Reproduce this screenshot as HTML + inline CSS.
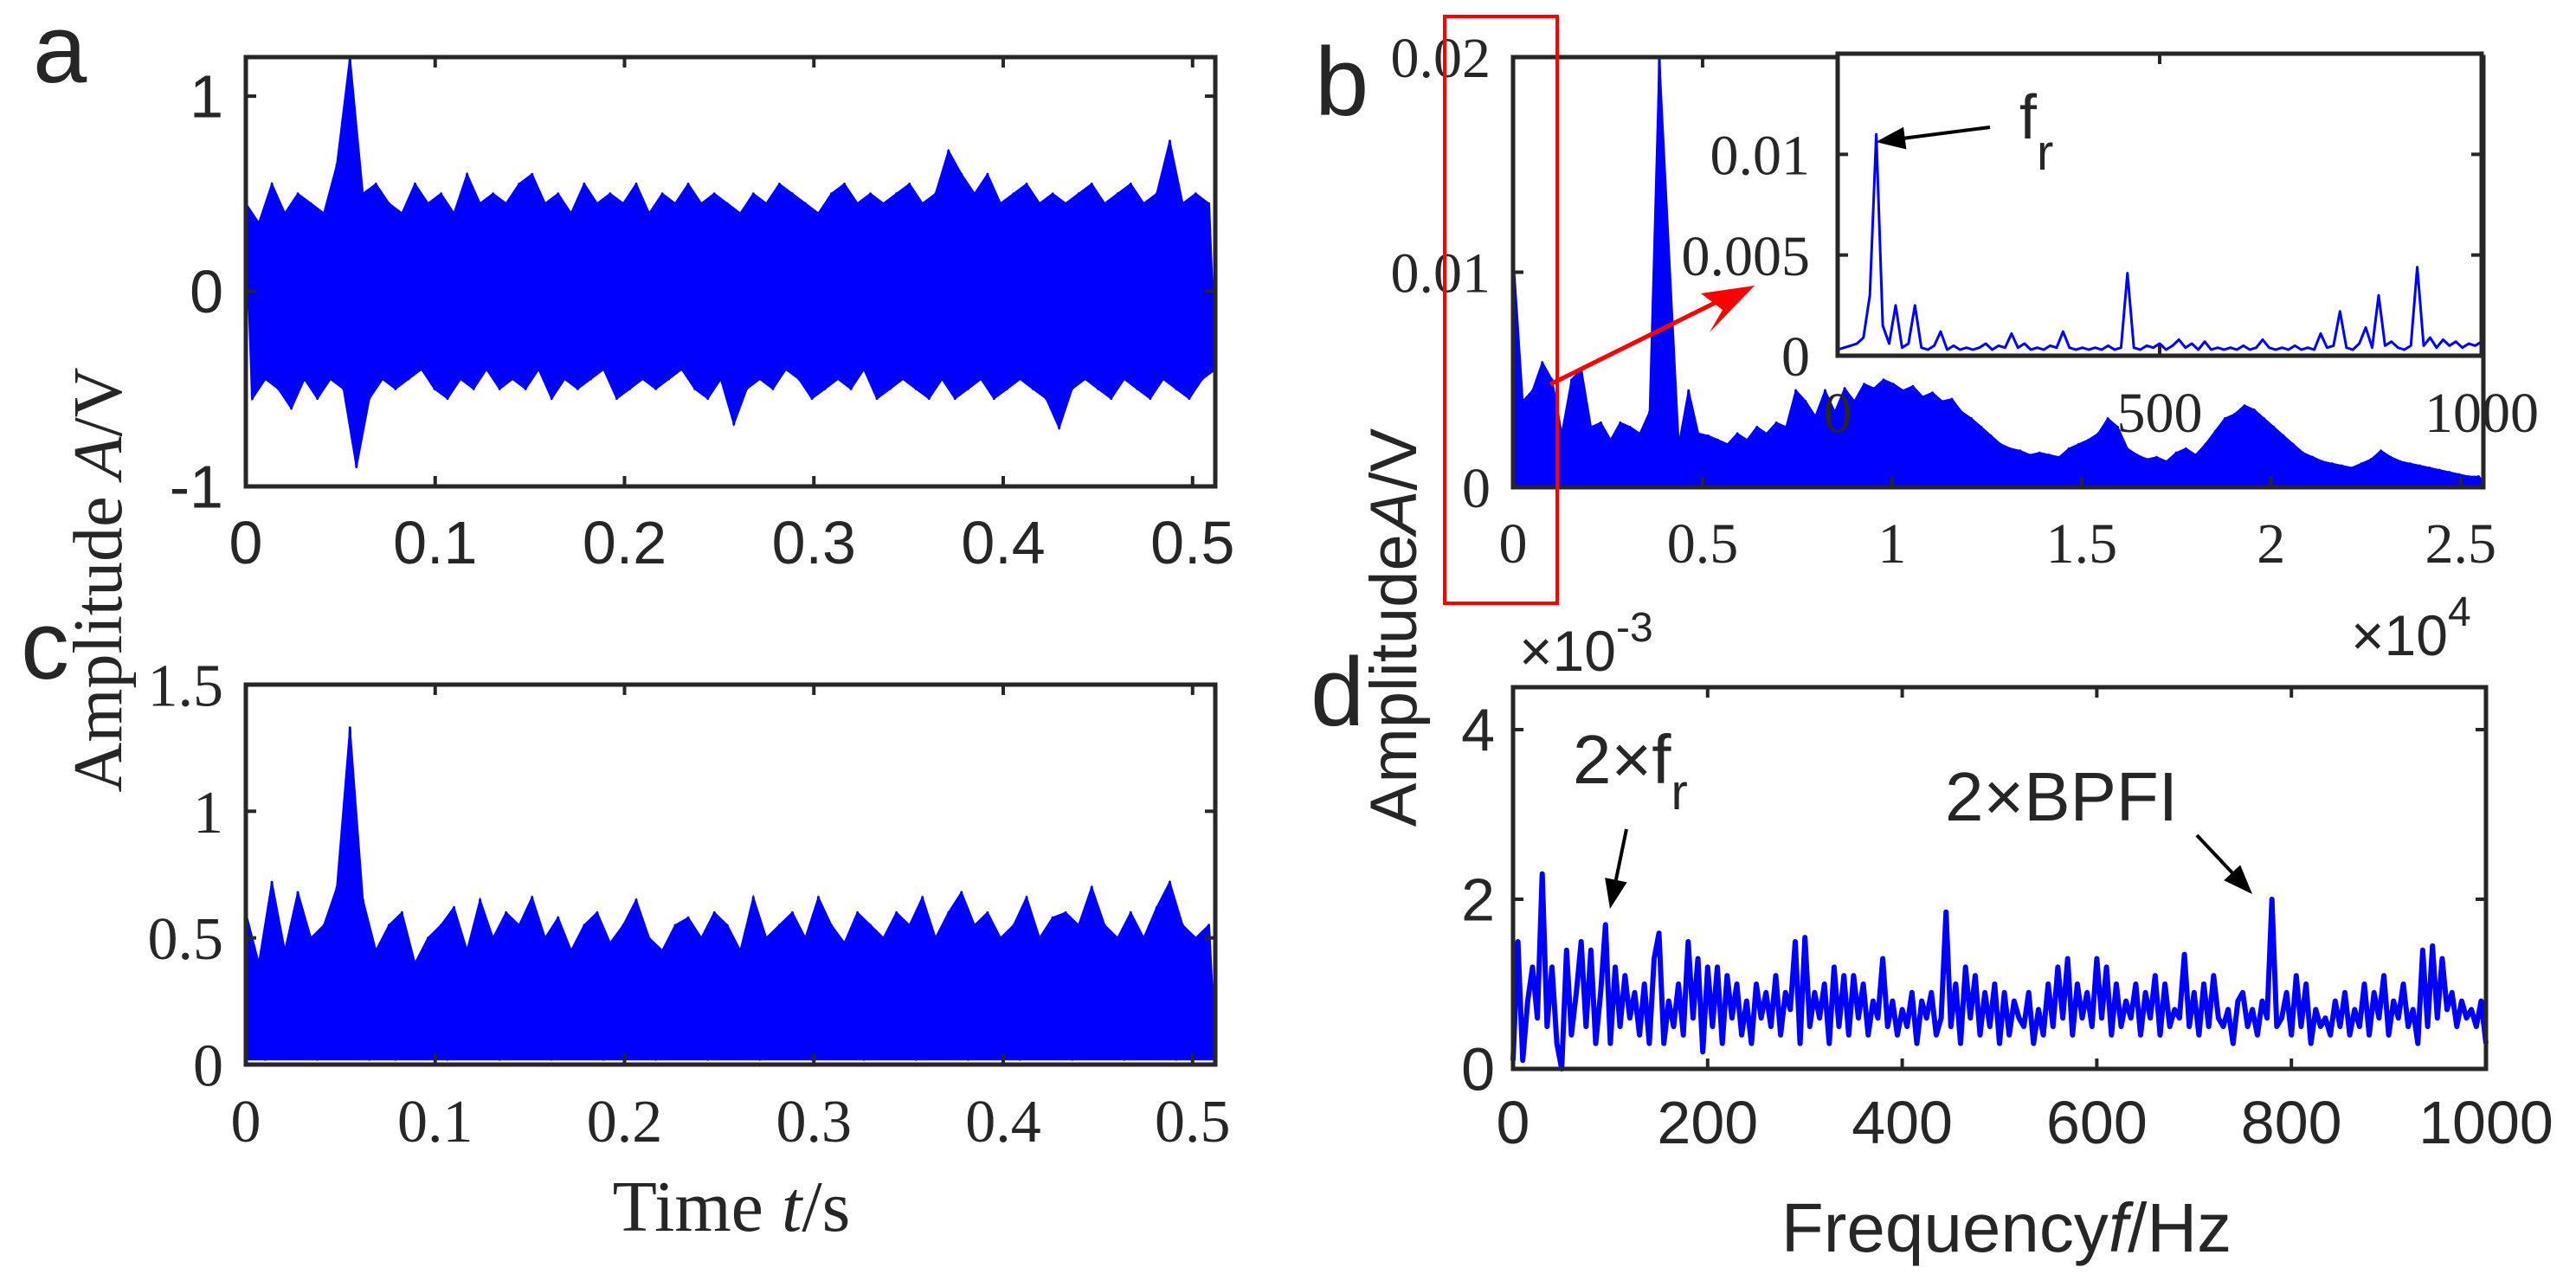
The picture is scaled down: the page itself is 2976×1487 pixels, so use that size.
<!DOCTYPE html>
<html><head><meta charset="utf-8">
<style>
html,body{margin:0;padding:0;background:#fff;}
svg{display:block;}
.sans{font-family:"Liberation Sans",sans-serif;fill:#262626;}
.serif{font-family:"Liberation Serif",serif;fill:#262626;}
</style></head>
<body>
<svg id="fig" width="2976" height="1487" viewBox="0 0 2976 1487" xmlns="http://www.w3.org/2000/svg">
<rect width="2976" height="1487" fill="#fff"/>
<text x="38" y="95" class="sans" font-size="112" fill="#000">a</text>
<text x="1519" y="133" class="sans" font-size="112" fill="#000">b</text>
<text x="24" y="784" class="sans" font-size="112" fill="#000">c</text>
<text x="1514" y="838" class="sans" font-size="112" fill="#000">d</text>
<text transform="translate(140,670) rotate(-90)" text-anchor="middle" class="serif" font-size="80">Amplitude <tspan font-style="italic">A</tspan>/V</text>
<text transform="translate(1636,725) rotate(-90)" text-anchor="middle" class="sans" font-size="76">Amplitude<tspan font-style="italic">A</tspan>/V</text>
<text x="845" y="1422" text-anchor="middle" class="serif" font-size="84">Time <tspan font-style="italic">t</tspan>/s</text>
<text x="2318" y="1446" text-anchor="middle" class="sans" font-size="80">Frequency<tspan font-style="italic">f</tspan>/Hz</text>
<text x="1755" y="775" class="sans" font-size="66">×10<tspan dy="-34" font-size="48">-3</tspan></text>
<text x="2716" y="757" class="sans" font-size="66">×10<tspan dy="-34" font-size="48">4</tspan></text>
<g id="layer"></g>
</svg>
<script>
// ---- data ----
const aTimeMax = 0.512;
const aValues = [0.45,-0.55,0.35,-0.45,0.55,-0.5,0.4,-0.6,0.5,-0.45,
0.45,-0.55,0.4,-0.45,0.65,-0.5,1.2,-0.9,0.5,-0.55,
0.55,-0.45,0.45,-0.5,0.4,-0.45,0.55,-0.4,0.45,-0.5,
0.5,-0.55,0.4,-0.45,0.6,-0.5,0.45,-0.4,0.5,-0.5,
0.45,-0.45,0.55,-0.5,0.6,-0.4,0.45,-0.55,0.5,-0.45,
0.4,-0.5,0.55,-0.45,0.45,-0.4,0.5,-0.55,0.45,-0.5,
0.55,-0.45,0.4,-0.5,0.5,-0.45,0.45,-0.4,0.55,-0.5,
0.45,-0.55,0.5,-0.45,0.45,-0.68,0.4,-0.5,0.5,-0.45,
0.45,-0.5,0.55,-0.4,0.5,-0.45,0.45,-0.55,0.4,-0.5,
0.5,-0.45,0.55,-0.5,0.45,-0.4,0.5,-0.55,0.45,-0.5,
0.5,-0.45,0.55,-0.5,0.45,-0.55,0.5,-0.45,0.72,-0.55,
0.6,-0.5,0.5,-0.45,0.6,-0.55,0.45,-0.5,0.5,-0.45,
0.55,-0.5,0.45,-0.55,0.5,-0.7,0.45,-0.5,0.5,-0.45,
0.55,-0.5,0.45,-0.55,0.5,-0.45,0.55,-0.5,0.45,-0.55,
0.5,-0.45,0.77,-0.5,0.45,-0.55,0.5,-0.45,0.45,-0.4];
const cValues = [0.6,0.05,0.4,0.02,0.72,0.08,0.45,0.03,0.68,0.05,
0.5,0.02,0.55,0.06,0.7,0.03,1.33,0.05,0.65,0.02,
0.45,0.04,0.55,0.02,0.6,0.06,0.4,0.03,0.5,0.05,
0.55,0.02,0.62,0.04,0.45,0.03,0.65,0.05,0.5,0.02,
0.6,0.04,0.55,0.03,0.66,0.05,0.5,0.02,0.58,0.04,
0.45,0.03,0.55,0.05,0.6,0.02,0.48,0.04,0.55,0.03,
0.65,0.05,0.5,0.02,0.45,0.04,0.55,0.03,0.58,0.05,
0.5,0.02,0.6,0.04,0.55,0.03,0.45,0.05,0.66,0.02,
0.5,0.04,0.55,0.03,0.6,0.05,0.5,0.02,0.66,0.04,
0.55,0.03,0.48,0.05,0.6,0.02,0.55,0.04,0.5,0.03,
0.6,0.05,0.55,0.02,0.66,0.04,0.5,0.03,0.6,0.05,
0.68,0.02,0.55,0.04,0.6,0.03,0.5,0.05,0.55,0.02,
0.66,0.04,0.5,0.03,0.58,0.05,0.6,0.02,0.55,0.04,
0.7,0.03,0.55,0.05,0.5,0.02,0.6,0.04,0.5,0.03,
0.62,0.05,0.72,0.02,0.55,0.04,0.5,0.03,0.55,0.04];
const bFreqMax = 25600;
const bValues = [0.011,0.0005,0.004,0.0003,0.0045,0.0006,0.0058,0.0004,0.005,0.0008,
0.0025,0.0005,0.005,0.0007,0.0055,0.0006,0.0028,0.0005,0.003,0.0004,
0.0022,0.0006,0.003,0.0005,0.0028,0.0008,0.0025,0.0004,0.0035,0.0006,
0.02,0.0085,0.0015,0.0006,0.002,0.0005,0.0045,0.0007,0.0025,0.0006,
0.0024,0.0008,0.0022,0.0007,0.002,0.0009,0.0025,0.0008,0.0022,0.0009,
0.0028,0.001,0.0025,0.0009,0.003,0.001,0.0028,0.0012,0.0045,0.0011,
0.004,0.0012,0.0033,0.0013,0.0045,0.0011,0.0035,0.0014,0.0046,0.0015,
0.004,0.0016,0.0048,0.0015,0.0046,0.0018,0.005,0.0016,0.0048,0.0017,
0.0045,0.0016,0.0047,0.0015,0.0042,0.0016,0.0044,0.0014,0.004,0.0013,
0.0041,0.0012,0.0035,0.0011,0.0032,0.001,0.0028,0.0009,0.0024,0.0008,
0.002,0.0007,0.0018,0.0006,0.0017,0.0006,0.0015,0.0005,0.0016,0.0006,
0.0015,0.0005,0.0014,0.0006,0.0018,0.0007,0.002,0.0008,0.0022,0.0009,
0.0025,0.0012,0.0032,0.0011,0.0028,0.0009,0.0018,0.0007,0.0015,0.0006,
0.0013,0.0005,0.0014,0.0006,0.0012,0.0005,0.0016,0.0006,0.0018,0.0007,
0.0015,0.0007,0.002,0.0009,0.0026,0.001,0.0032,0.0013,0.0034,0.0014,
0.0038,0.0015,0.0036,0.0014,0.0032,0.0012,0.0028,0.0011,0.0024,0.0009,
0.002,0.0008,0.0016,0.0007,0.0014,0.0006,0.0012,0.0005,0.0011,0.0004,
0.001,0.0004,0.0009,0.0004,0.0011,0.0005,0.0013,0.0005,0.0017,0.0006,
0.0014,0.0006,0.0012,0.0005,0.0011,0.0005,0.001,0.0004,0.0009,0.0004,
0.0008,0.0003,0.0007,0.0003,0.0006,0.0003,0.0005,0.0002,0.0005,0.0002];
const insetFreqMax = 1000;
const insetValues = [0.0003,0.0004,0.0005,0.0006,0.0009,0.003,0.011,0.0015,0.0006,0.0025,
0.0004,0.0006,0.0025,0.0004,0.0003,0.0005,0.0012,0.0003,0.0005,0.0003,
0.0004,0.0003,0.0004,0.0006,0.0003,0.0005,0.0004,0.0011,0.0004,0.0006,
0.0003,0.0004,0.0003,0.0005,0.0004,0.0012,0.0004,0.0003,0.0004,0.0003,
0.0004,0.0003,0.0005,0.0003,0.0004,0.0041,0.0004,0.0003,0.0005,0.0004,
0.0006,0.0003,0.0005,0.0008,0.0004,0.0006,0.0003,0.0007,0.0003,0.0004,
0.0003,0.0004,0.0003,0.0005,0.0003,0.0004,0.0008,0.0004,0.0003,0.0004,
0.0003,0.0005,0.0003,0.0004,0.0003,0.0011,0.0004,0.0005,0.0022,0.0004,
0.0003,0.0006,0.0014,0.0004,0.003,0.0005,0.0007,0.0004,0.0003,0.0005,
0.0044,0.0005,0.0009,0.0004,0.0008,0.0005,0.0007,0.0004,0.0006,0.0005,0.0007];
const dFreqMax = 1000;
// values in units of 1e-3 V
const dValues = [0.1,1.5,0.1,0.8,1.2,0.6,2.3,0.5,1.2,0.3,
0.0,1.4,0.4,0.9,1.5,0.5,1.4,0.3,0.9,1.7,
0.3,1.2,0.5,1.1,0.6,0.9,0.4,1.0,0.3,1.3,
1.6,0.3,0.8,0.5,1.0,0.4,1.5,0.6,1.3,0.2,
1.2,0.5,1.2,0.3,1.1,0.6,1.0,0.4,0.8,0.3,
1.0,0.6,0.9,0.5,1.1,0.4,0.9,0.7,1.5,0.3,
1.55,0.5,0.9,0.6,1.0,0.3,1.2,0.5,1.1,0.4,
1.1,0.6,1.0,0.4,0.8,0.6,1.3,0.5,0.8,0.4,
0.7,0.5,0.9,0.3,0.8,0.6,0.9,0.4,0.6,1.85,
0.5,1.0,0.3,1.2,0.6,1.1,0.4,0.9,0.5,1.0,
0.3,0.9,0.4,0.8,0.6,0.5,0.9,0.3,0.7,0.4,
1.0,0.5,1.2,0.6,1.3,0.4,1.0,0.6,0.9,0.5,
1.3,0.6,1.2,0.4,1.0,0.5,0.8,0.6,1.0,0.4,
0.9,0.6,1.1,0.4,1.0,0.5,0.7,0.6,1.35,0.5,
0.9,0.4,1.0,0.5,1.1,0.6,0.5,0.7,0.3,0.8,
0.9,0.5,0.7,0.4,0.8,0.6,2.0,0.5,0.6,0.9,
0.4,1.1,0.5,1.0,0.3,0.7,0.5,0.6,0.4,0.8,
0.5,0.9,0.4,0.7,0.5,1.0,0.4,0.9,0.6,1.1,
0.4,0.8,0.6,1.0,0.5,0.7,0.3,1.4,0.5,1.45,
0.6,1.3,0.7,0.9,0.5,0.8,0.6,0.7,0.5,0.8,0.3];
const aXTicks = [0,0.1,0.2,0.3,0.4,0.5];
const aXTickLabels = ["0","0.1","0.2","0.3","0.4","0.5"];
const aYTicks = [-1,0,1];
const aYTickLabels = ["-1","0","1"];
const cYTicks = [0,0.5,1,1.5];
const cYTickLabels = ["0","0.5","1","1.5"];
const bXTicks = [0,5000,10000,15000,20000,25000];
const bXTickLabels = ["0","0.5","1","1.5","2","2.5"];
const bYTicks = [0,0.01,0.02];
const bYTickLabels = ["0","0.01","0.02"];
const insetXTicks = [0,500,1000];
const insetXTickLabels = ["0","500","1000"];
const insetYTicks = [0,0.005,0.01];
const insetYTickLabels = ["0","0.005","0.01"];
const dXTicks = [0,200,400,600,800,1000];
const dXTickLabels = ["0","200","400","600","800","1000"];
const dYTicks = [0,2,4];
const dYTickLabels = ["0","2","4"];

const NS = "http://www.w3.org/2000/svg";
const layer = document.getElementById("layer");
function mk(tag, attrs, parent){
  const e = document.createElementNS(NS, tag);
  for (const k in attrs) e.setAttribute(k, attrs[k]);
  (parent||layer).appendChild(e);
  return e;
}
function axes(L,R,T,B,x0,x1,y0,y1){
  return {L,R,T,B,
    sx:v=>L+(v-x0)/(x1-x0)*(R-L),
    sy:v=>Math.max(T, Math.min(B, B-(v-y0)/(y1-y0)*(B-T)))};
}
// fillMode: null | 'band' (upper maxima to lower minima) | number (fill from maxima down to this value)
function drawPanel(name, ax, vals, xmax, color, sw, xt, xtl, yt, ytl, fontCls, fs, xlabY, ylabX, bg, fillMode){
  const g = mk("g",{});
  
  
  if (bg){
    const r = mk("rect",{x:ax.L,y:ax.T,width:ax.R-ax.L,height:ax.B-ax.T,fill:"#fff"},g);
    
    
  }
  const n = vals.length;
  const X = i => ax.sx(i*xmax/(n-1));
  if (fillMode !== null && fillMode !== undefined){
    const up = [], lo = [];
    for (let i=0;i<n;i++){
      const p = i>0?vals[i-1]:-Infinity, q = i<n-1?vals[i+1]:-Infinity;
      if (vals[i]>=p && vals[i]>=q) up.push(i);
      const p2 = i>0?vals[i-1]:Infinity, q2 = i<n-1?vals[i+1]:Infinity;
      if (vals[i]<=p2 && vals[i]<=q2) lo.push(i);
    }
    let d = "";
    up.forEach((i,k)=>{ d += (k?"L":"M")+X(i).toFixed(1)+" "+ax.sy(vals[i]).toFixed(1); });
    if (fillMode === 'band'){
      lo.slice().reverse().forEach(i=>{ d += "L"+X(i).toFixed(1)+" "+ax.sy(vals[i]).toFixed(1); });
    } else {
      d += "L"+X(n-1).toFixed(1)+" "+ax.sy(fillMode).toFixed(1)+"L"+X(0).toFixed(1)+" "+ax.sy(fillMode).toFixed(1);
    }
    d += "Z";
    const f = mk("path",{d:d,fill:color,stroke:color,"stroke-width":2},g);
    
    
  }
  let d = "";
  for (let i=0;i<n;i++){
    d += (i?"L":"M")+X(i).toFixed(1)+" "+ax.sy(vals[i]).toFixed(1);
  }
  const p = mk("path",{d:d,fill:"none",stroke:color,"stroke-width":sw,"stroke-linejoin":"round"},g);
  
  
  const box = mk("rect",{x:ax.L,y:ax.T,width:ax.R-ax.L,height:ax.B-ax.T,fill:"none",stroke:"#262626","stroke-width":5},g);
  
  
  xt.forEach((v,i)=>{
    const x = ax.sx(v);
    const t1 = mk("line",{x1:x,x2:x,y1:ax.B,y2:ax.B-12,stroke:"#262626","stroke-width":4},g);
    
    
    const t2 = mk("line",{x1:x,x2:x,y1:ax.T,y2:ax.T+12,stroke:"#262626","stroke-width":4},g);
    
    
    const lb = mk("text",{x:x,y:xlabY,"text-anchor":"middle","class":fontCls,"font-size":fs},g);
    lb.textContent = xtl[i];
    
    
  });
  yt.forEach((v,i)=>{
    const y = ax.sy(v);
    const t1 = mk("line",{x1:ax.L,x2:ax.L+12,y1:y,y2:y,stroke:"#262626","stroke-width":4},g);
    
    
    const t2 = mk("line",{x1:ax.R,x2:ax.R-12,y1:y,y2:y,stroke:"#262626","stroke-width":4},g);
    
    
    const lb = mk("text",{x:ylabX,y:y+fs*0.35,"text-anchor":"end","class":fontCls,"font-size":fs},g);
    lb.textContent = ytl[i];
    
    
  });
  return g;
}
const axA = axes(284,1404,66,562,0,aTimeMax,-1,1.2);
const axC = axes(284,1404,791,1230,0,aTimeMax,0,1.5);
const axB = axes(1748,2869,66,563,0,bFreqMax,0,0.02);
const axI = axes(2123,2867,62,411,0,insetFreqMax,0,0.015);
const axD = axes(1748,2872,794,1235,0,dFreqMax,0,4.5);

drawPanel("a", axA, aValues, aTimeMax, "#0000ff", 3, aXTicks, aXTickLabels, aYTicks, aYTickLabels, "sans", 70, 651, 258, false, 'band');
drawPanel("c", axC, cValues, aTimeMax, "#0000ff", 3, aXTicks, aXTickLabels, cYTicks, cYTickLabels, "serif", 70, 1319, 258, false, 0.02);
drawPanel("b", axB, bValues, bFreqMax, "#0000ff", 3, bXTicks, bXTickLabels, bYTicks, bYTickLabels, "serif", 66, 650, 1722, false, 0);
drawPanel("d", axD, dValues, dFreqMax, "#0000ff", 6, dXTicks, dXTickLabels, dYTicks, dYTickLabels, "sans", 70, 1321, 1727, false, null);

// red zoom rectangle and arrow
const rr = mk("rect",{x:1669,y:19,width:130,height:678,fill:"none",stroke:"#ff0000","stroke-width":4});


const ra = mk("line",{x1:1791,y1:444,x2:1985,y2:348,stroke:"#ff0000","stroke-width":5});


const rh = mk("polygon",{points:"2027,330 1965,339 1990,358 1975,384",fill:"#ff0000"});



drawPanel("inset", axI, insetValues, insetFreqMax, "#0000ff", 3, insetXTicks, insetXTickLabels, insetYTicks, insetYTickLabels, "serif", 66, 499, 2091, true, null);

// annotations
function arrow(name,x1,y1,x2,y2,w){
  const ang = Math.atan2(y2-y1,x2-x1), hl=34, hw=13;
  const bx = x2-hl*Math.cos(ang), by = y2-hl*Math.sin(ang);
  const s = mk("line",{x1:x1,y1:y1,x2:bx,y2:by,stroke:"#000","stroke-width":w});
  
  
  const px = -Math.sin(ang)*hw, py = Math.cos(ang)*hw;
  const h = mk("polygon",{points:`${x2},${y2} ${bx+px},${by+py} ${bx-px},${by-py}`,fill:"#000"});
  
  
}
arrow("fr-arrow",2299,147,2167,164,4);
const fr = mk("text",{x:2333,y:160,"class":"sans","font-size":72,fill:"#000"});
fr.innerHTML = 'f<tspan dy="36" font-size="58">r</tspan>';


arrow("2fr-arrow",1879,958,1860,1050,4);
const t2fr = mk("text",{x:1817,y:905,"class":"sans","font-size":80,fill:"#000"});
t2fr.innerHTML = '2×f<tspan dy="30" font-size="58">r</tspan>';


arrow("2bpfi-arrow",2538,965,2602,1033,4);
const tb = mk("text",{x:2247,y:948,"class":"sans","font-size":80,fill:"#000"});
tb.textContent = '2×BPFI';


</script>
</body></html>
